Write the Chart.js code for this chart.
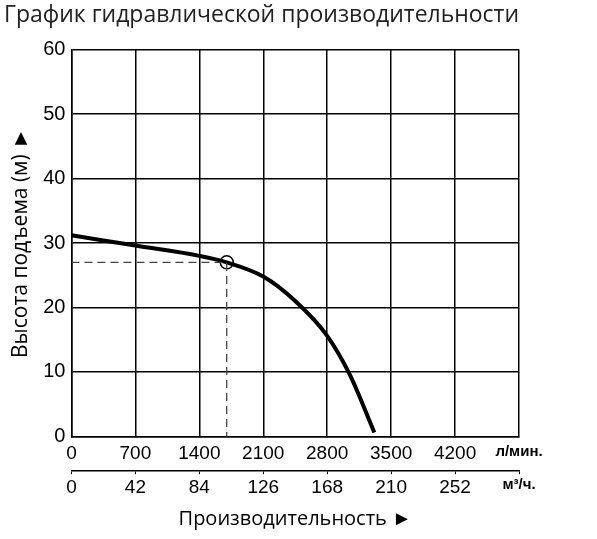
<!DOCTYPE html>
<html><head><meta charset="utf-8">
<script src="https://cdn.jsdelivr.net/npm/chart.js@4/dist/chart.umd.min.js"></script>
<style>body{margin:0;background:#fff}#wrap{width:597px;height:539px}</style>
</head><body><div id="wrap"><canvas id="c"></canvas></div>
<script>
// кривая насоса: расход (л/мин) -> напор (м)
const flow = [0, 700, 1400, 1700, 2100, 2450, 2800, 3050, 3316];
const head = [31.2, 29.6, 28.0, 27.0, 24.8, 21.0, 15.6, 9.5, 0.6];
const dutyFlow = 1700;
const dutyHead = 27;
const xMax = 4900;
const m3Max = 294;

const curve = flow.map((f, i) => ({x: f, y: head[i]}));

new Chart(document.getElementById('c'), {
  type: 'scatter',
  data: {
    datasets: [
      {data: [{x: 0, y: dutyHead}, {x: dutyFlow, y: dutyHead}, {x: dutyFlow, y: 0}],
       showLine: true, borderColor: '#444', borderWidth: 1.3, borderDash: [8, 5], pointRadius: 0},
      {data: curve, showLine: true, borderColor: '#000', borderWidth: 4,
       cubicInterpolationMode: 'monotone', pointRadius: 0},
      {data: [{x: dutyFlow, y: dutyHead}], pointRadius: 6.5, pointBackgroundColor: '#fff',
       pointBorderColor: '#000', pointBorderWidth: 1.5}
    ]
  },
  options: {
    animation: false,
    responsive: true,
    maintainAspectRatio: false,
    layout: {padding: {top: 0, right: 78, left: 4, bottom: 4}},
    plugins: {
      legend: {display: false},
      tooltip: {enabled: false},
      title: {display: true, text: 'График гидравлической производительности',
        color: '#222', font: {family: 'Open Sans', size: 23, weight: 'normal'}, padding: {top: 2, bottom: 20}}
    },
    scales: {
      x: {
        type: 'linear', min: 0, max: xMax,
        grid: {color: '#000', lineWidth: 1.5, tickLength: 0},
        border: {color: '#000', width: 1.5},
        ticks: {stepSize: 700, color: '#000', padding: 6,
          font: c => ({family: 'Liberation Sans', size: c.tick && c.tick.value === xMax ? 15 : 19,
                       weight: c.tick && c.tick.value === xMax ? 'bold' : 'normal'}),
          callback: v => v === xMax ? 'л/мин.' : v}
      },
      x2: {
        type: 'linear', position: 'bottom', min: 0, max: m3Max,
        grid: {drawOnChartArea: false, color: '#000', tickLength: 3},
        border: {color: '#000', width: 1.5},
        ticks: {stepSize: 42, color: '#000', padding: 2,
          font: c => ({family: 'Liberation Sans', size: c.tick && c.tick.value === m3Max ? 15 : 19,
                       weight: c.tick && c.tick.value === m3Max ? 'bold' : 'normal'}),
          callback: v => v === m3Max ? 'м³/ч.' : v},
        title: {display: true, text: 'Производительность ►', color: '#000',
          font: {family: 'Open Sans', size: 20}, padding: {top: 6}}
      },
      y: {
        min: 0, max: 60,
        grid: {color: '#000', lineWidth: 1.5, tickLength: 0},
        border: {color: '#000', width: 1.5},
        ticks: {stepSize: 10, color: '#000', padding: 6, font: {family: 'Liberation Sans', size: 20}},
        title: {display: true, text: 'Высота подъема (м) ►', color: '#000',
          font: {family: 'Open Sans', size: 21}, padding: {bottom: 4}}
      }
    }
  }
});
</script></body></html>
